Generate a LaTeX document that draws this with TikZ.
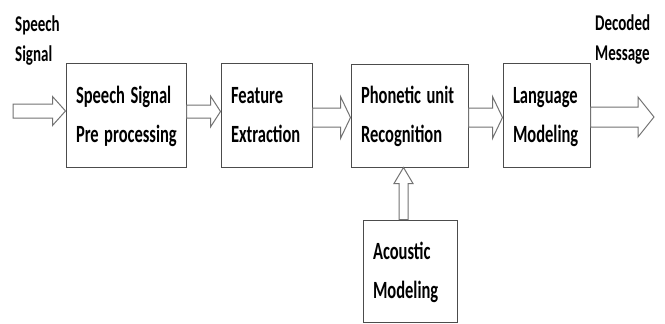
\documentclass[tikz,border=0pt]{standalone}
\usepackage{fontspec}
\setmainfont{Carlito}
\usepackage{graphicx}
\usepackage{tikz}
\usetikzlibrary{calc}
\def\tall#1{\scalebox{1}[1.5]{\begin{tabular}{@{}l@{}}#1\end{tabular}}}
\newcommand{\blockarrow}[5]{%
	\coordinate (ba-s) at #1;
	\coordinate (ba-e) at #2;
	\coordinate (ba-h) at ($(ba-e)!#5pt!(ba-s)$);
	\draw[hollow] ($(ba-s)!#3pt!90:(ba-e)$) -- ($(ba-h)!#3pt!90:(ba-e)$) -- ($(ba-h)!#4pt!90:(ba-e)$) -- (ba-e) -- ($(ba-h)!#4pt!-90:(ba-e)$) -- ($(ba-h)!#3pt!-90:(ba-e)$) -- ($(ba-s)!#3pt!-90:(ba-e)$) -- cycle;}
\tikzset{
	stage/.style={draw=black!70, line width=1pt, minimum height=104pt, inner xsep=10pt, align=left, font=\fontsize{16.5}{26}\selectfont\bfseries},
	caption/.style={inner sep=0pt, font=\fontsize{15}{20}\selectfont\bfseries},
	hollow/.style={draw=black!55, line width=1pt, fill=white, line join=miter},
}
\begin{document}
\begin{tikzpicture}[x=1pt, y=-1pt]
			%%%%% START %%%%%
			\useasboundingbox[fill=white] (0,0) rectangle (665,324);
			
			\node[caption, anchor=north west] (sig) at (15,10) {\tall{Speech\\Signal}};
			\node[caption, anchor=north west] (msg) at (595,9) {\tall{Decoded\\Message}};
			
			\node[stage, text width=100pt] (pre) at (126,115) {\tall{Speech Signal\\Pre processing}};
			\node[stage, text width=71pt] (feat) at (266.5,115.5) {\tall{Feature\\Extraction}};
			\node[stage, text width=97pt, minimum height=103pt] (phon) at (409.5,115.5) {\tall{Phonetic unit\\Recognition}};
			\node[stage, text width=67pt] (lang) at (546.5,115) {\tall{Language\\Modeling}};
			\node[stage, text width=74pt, minimum height=102pt] (acou) at (410,271) {\tall{Acoustic\\Modeling}};
			
			\coordinate (in) at (13,111);
			\coordinate (out) at (654,117);
			
			\blockarrow{(in)}{([yshift=4pt]pre.west)}{7}{14.5}{13}
			\blockarrow{([yshift=3.5pt]pre.east)}{([yshift=4pt]feat.west)}{6.5}{15.5}{10}
			\blockarrow{([yshift=-2pt]feat.east)}{([yshift=-2pt]phon.west)}{9.5}{21}{10}
			\blockarrow{([yshift=-2pt]phon.east)}{([yshift=-2.5pt]lang.west)}{9.5}{21}{10}
			\blockarrow{([yshift=-2pt]lang.east)}{(out)}{10}{20}{16}
			\blockarrow{([xshift=-6.5pt]acou.north)}{([xshift=-6pt]phon.south)}{4.5}{9.5}{16}
			
			%%%%% END %%%%%
\end{tikzpicture}
\end{document}
